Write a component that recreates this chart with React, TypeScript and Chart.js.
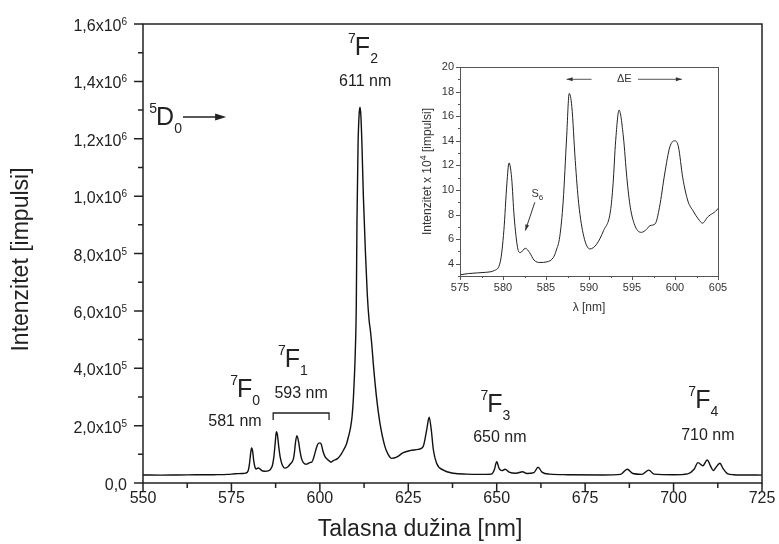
import React, { useEffect, useRef } from "react";
import { Chart, registerables } from "chart.js";
Chart.register(...registerables);

// Emission spectrum: wavelength [nm] and intensity [x10^4 impulses]
const wavelengths = [
  550, 555, 560, 565, 570, 574, 576, 578, 579, 579.7, 580.1, 580.45, 580.7, 581.0, 581.3, 581.7,
  582.0, 582.6, 583.1, 583.6, 584.3, 585.1, 585.85, 586.2, 586.6, 587.0, 587.4, 587.7, 588.0, 588.4,
  588.8, 589.4, 590.1, 590.9, 591.7, 592.5, 592.8, 593.1, 593.5, 594.0, 594.4, 594.8, 595.4, 596.1,
  596.7, 597.1, 597.7, 598.2, 598.8, 599.4, 600.0, 600.4, 600.9, 601.5, 602.1, 602.7, 603.2, 603.8,
  605.0, 606.0, 606.7, 607.5, 608.1, 608.7, 609.1, 609.5, 609.8, 610.0, 610.3, 610.5, 610.8, 611.1,
  611.35, 611.6, 611.9, 612.3, 612.9, 613.4, 613.9, 614.3, 614.7, 615.1, 616.0, 617.0, 618.4, 619.3,
  620.3, 621.7, 623.6, 625.5, 627.8, 629.2, 630.2, 630.9, 631.5, 632.1, 633.0, 634.9, 637.8, 641.5,
  645, 648.5, 649.3, 650.0, 650.7, 651.5, 652.4, 653.5, 655.5, 657.3, 658.5, 660.5, 661.7, 662.8,
  665, 670, 680, 685, 686.9, 688.5, 691, 693.0, 694.5, 700, 704, 705.8, 706.9, 708.3, 709.5, 710.5,
  711.2, 712.2, 713.1, 714, 715.2, 717, 720, 725,
];
const intensity = [
  2.8, 2.75, 2.8, 2.85, 2.9, 3.0, 3.2, 3.3, 3.45, 4.2, 6.7, 10.5, 12.2, 11.0, 7.8, 5.3,
  4.9, 5.25, 4.9, 4.3, 4.1, 4.15, 4.5, 5.1, 6.2, 9.1, 14.3, 17.85, 16.8, 12.4,
  8.9, 6.2, 5.2, 5.6, 6.7, 8.3, 10.5, 14.0, 16.5, 14.3, 11.0, 8.6, 7.0, 6.55,
  6.8, 7.1, 7.25, 8.6, 11.3, 13.5, 14.0, 13.5, 11.0, 9.1, 8.3, 7.65, 7.3, 7.8,
  8.5, 10.0, 11.5, 13.5, 16.2, 19.5, 23.1, 30, 38, 45, 62, 92, 118, 128.5,
  131, 128, 118, 100, 80, 66, 57, 53, 48, 41.7, 30.1, 20.8, 12.7, 10,
  8.6, 9.0, 10.6, 11.3, 11.7, 12.7, 18.5, 22.9, 18.5, 11.5, 6.9, 4.5, 3.4, 3.1,
  3.0, 3.1, 4.5, 7.4, 5.0, 4.3, 4.8, 3.8, 3.4, 3.9, 3.3, 3.6, 5.5, 3.8,
  3.1, 2.9, 2.8, 3.0, 4.8, 3.3, 3.0, 4.5, 3.1, 2.9, 3.2, 4.8, 7.1, 6.0, 8.0, 5.8,
  4.3, 5.8, 6.9, 5.0, 3.3, 2.9, 2.8, 2.75,
];

// Main axes (intensity in x10^4)
const mainXTicks = [550, 575, 600, 625, 650, 675, 700, 725];
const mainXMinor = [562.5, 587.5, 612.5, 637.5, 662.5, 687.5, 712.5];
const mainYTicks = [0, 20, 40, 60, 80, 100, 120, 140, 160];
const mainYMinor = [10, 30, 50, 70, 90, 110, 130, 150];
const mainYTickBase = ["0,0", "2,0x10", "4,0x10", "6,0x10", "8,0x10", "1,0x10", "1,2x10", "1,4x10", "1,6x10"];
const mainYTickExp = ["", "5", "5", "5", "5", "6", "6", "6", "6"];
const mainXTitle = "Talasna dužina [nm]";
const mainYTitle = "Intenzitet [impulsi]";

// Inset axes
const insetXTicks = [575, 580, 585, 590, 595, 600, 605];
const insetXMinor = [577.5, 582.5, 587.5, 592.5, 597.5, 602.5];
const insetYTicks = [4, 6, 8, 10, 12, 14, 16, 18, 20];
const insetYMinor = [3, 5, 7, 9, 11, 13, 15, 17, 19];
const insetXTitle = "λ [nm]";
const insetYTitleParts = ["Intenzitet x 10", "4", " [impulsi]"];

// Transition labels: [sup, main, sub, x of glyph origin (nm), baseline (x10^4)]
const terms: [string, string, string, number, number][] = [
  ["7", "F", "2", 609.9, 149.3],
  ["7", "F", "0", 576.6, 30.0],
  ["7", "F", "1", 590.1, 40.5],
  ["7", "F", "3", 647.3, 24.8],
  ["7", "F", "4", 706.1, 26.2],
  ["5", "D", "0", 553.7, 124.8],
];
// wavelength labels: [text, center x (nm), middle y (x10^4)]
const nmLabels: [string, number, number][] = [
  ["611 nm", 612.8, 139.8],
  ["581 nm", 576.0, 21.3],
  ["593 nm", 594.7, 31.0],
  ["650 nm", 650.9, 16.0],
  ["710 nm", 709.7, 16.4],
];

const FONT = '"Liberation Sans", Arial, sans-serif';
const TXT = "#222";

function richText(ctx: CanvasRenderingContext2D, x: number, y: number,
  runs: { t: string; s: number; dy: number }[], align: "left" | "center" | "right") {
  const ws = runs.map((r) => { ctx.font = `${r.s}px ${FONT}`; return ctx.measureText(r.t).width; });
  const total = ws.reduce((a, b) => a + b, 0);
  let sx = align === "left" ? x : align === "center" ? x - total / 2 : x - total;
  ctx.textAlign = "left";
  ctx.textBaseline = "alphabetic";
  runs.forEach((r, i) => {
    ctx.font = `${r.s}px ${FONT}`;
    ctx.fillText(r.t, sx, y + r.dy);
    sx += ws[i];
  });
}

function arrowHead(ctx: CanvasRenderingContext2D, x1: number, y1: number, x2: number, y2: number, len: number, hw: number) {
  const ang = Math.atan2(y2 - y1, x2 - x1);
  ctx.beginPath();
  ctx.moveTo(x2, y2);
  ctx.lineTo(x2 - len * Math.cos(ang) + hw * Math.sin(ang), y2 - len * Math.sin(ang) - hw * Math.cos(ang));
  ctx.lineTo(x2 - len * Math.cos(ang) - hw * Math.sin(ang), y2 - len * Math.sin(ang) + hw * Math.cos(ang));
  ctx.closePath();
  ctx.fill();
}

const mainDecor = {
  id: "mainDecor",
  afterDraw(chart: any) {
    const { ctx, chartArea: a, scales } = chart;
    const x = scales.x, y = scales.y;
    ctx.save();
    ctx.strokeStyle = "#222";
    ctx.fillStyle = TXT;
    ctx.lineWidth = 1.5;
    ctx.strokeRect(a.left, a.top, a.right - a.left, a.bottom - a.top);
    ctx.beginPath();
    mainXTicks.forEach((v) => { const p = x.getPixelForValue(v); ctx.moveTo(p, a.bottom); ctx.lineTo(p, a.bottom + 8); });
    mainXMinor.forEach((v) => { const p = x.getPixelForValue(v); ctx.moveTo(p, a.bottom); ctx.lineTo(p, a.bottom + 5); });
    mainYTicks.forEach((v) => { const p = y.getPixelForValue(v); ctx.moveTo(a.left, p); ctx.lineTo(a.left - 9, p); });
    mainYMinor.forEach((v) => { const p = y.getPixelForValue(v); ctx.moveTo(a.left, p); ctx.lineTo(a.left - 5, p); });
    ctx.stroke();

    // tick labels
    ctx.font = `16px ${FONT}`;
    ctx.textAlign = "center";
    ctx.textBaseline = "middle";
    mainXTicks.forEach((v) => ctx.fillText(String(v), x.getPixelForValue(v), a.bottom + 16));
    mainYTicks.forEach((v, i) => {
      const p = y.getPixelForValue(v);
      richText(ctx, a.left - 16, p, [
        { t: mainYTickBase[i], s: 16, dy: 7 },
        { t: mainYTickExp[i], s: 10, dy: 1 },
      ], "right");
    });

    // titles
    ctx.font = `23px ${FONT}`;
    ctx.textAlign = "center";
    ctx.textBaseline = "middle";
    ctx.fillText(mainXTitle, 420, a.bottom + 47);
    ctx.save();
    ctx.translate(22, (a.top + a.bottom) / 2 + 6);
    ctx.rotate(-Math.PI / 2);
    ctx.fillText(mainYTitle, 0, 0);
    ctx.restore();

    // transition labels
    terms.forEach(([sup, main, sub, wx, wy]) => {
      const px = x.getPixelForValue(wx), py = y.getPixelForValue(wy);
      ctx.font = `14px ${FONT}`;
      ctx.textAlign = "right";
      ctx.textBaseline = "alphabetic";
      ctx.fillText(sup, px + 1, py - 12);
      ctx.font = `25px ${FONT}`;
      ctx.textAlign = "left";
      ctx.fillText(main, px, py);
      const mw = ctx.measureText(main).width;
      ctx.font = `14px ${FONT}`;
      ctx.fillText(sub, px + mw, py + 8);
    });
    ctx.font = `16px ${FONT}`;
    ctx.textAlign = "center";
    ctx.textBaseline = "middle";
    nmLabels.forEach(([t, wx, wy]) => ctx.fillText(t, x.getPixelForValue(wx), y.getPixelForValue(wy)));

    // 7F1 bracket
    const bx1 = x.getPixelForValue(586.8), bx2 = x.getPixelForValue(602.6);
    const bt = y.getPixelForValue(24.4), bb = y.getPixelForValue(22.0);
    ctx.lineWidth = 1.3;
    ctx.beginPath();
    ctx.moveTo(bx1, bb); ctx.lineTo(bx1, bt); ctx.lineTo(bx2, bt); ctx.lineTo(bx2, bb);
    ctx.stroke();

    // 5D0 arrow
    const ax1 = x.getPixelForValue(561.3), ax2 = x.getPixelForValue(573.5), ay = y.getPixelForValue(127.6);
    ctx.lineWidth = 1.5;
    ctx.beginPath(); ctx.moveTo(ax1, ay); ctx.lineTo(ax2 - 6, ay); ctx.stroke();
    arrowHead(ctx, ax1, ay, ax2, ay, 11, 3.5);
    ctx.restore();
  },
};

const insetDecor = {
  id: "insetDecor",
  afterDraw(chart: any) {
    const { ctx, chartArea: a, scales } = chart;
    const x = scales.x, y = scales.y;
    ctx.save();
    ctx.strokeStyle = "#555";
    ctx.fillStyle = "#333";
    ctx.lineWidth = 1;
    ctx.strokeRect(a.left + 0.5, a.top + 0.5, a.right - a.left, a.bottom - a.top);
    ctx.beginPath();
    insetXTicks.forEach((v) => { const p = Math.round(x.getPixelForValue(v)) + 0.5; ctx.moveTo(p, a.bottom); ctx.lineTo(p, a.bottom + 4); });
    insetXMinor.forEach((v) => { const p = Math.round(x.getPixelForValue(v)) + 0.5; ctx.moveTo(p, a.bottom); ctx.lineTo(p, a.bottom + 2); });
    insetYTicks.forEach((v) => { const p = Math.round(y.getPixelForValue(v)) + 0.5; ctx.moveTo(a.left, p); ctx.lineTo(a.left - 4, p); });
    insetYMinor.forEach((v) => { const p = Math.round(y.getPixelForValue(v)) + 0.5; ctx.moveTo(a.left, p); ctx.lineTo(a.left - 2, p); });
    ctx.stroke();

    ctx.font = `11px ${FONT}`;
    ctx.textAlign = "center";
    ctx.textBaseline = "middle";
    insetXTicks.forEach((v) => ctx.fillText(String(v), x.getPixelForValue(v), a.bottom + 12));
    ctx.textAlign = "right";
    insetYTicks.forEach((v) => ctx.fillText(String(v), a.left - 6, y.getPixelForValue(v)));
    ctx.textAlign = "center";
    ctx.font = `12px ${FONT}`;
    ctx.fillText(insetXTitle, (a.left + a.right) / 2, a.bottom + 32);
    ctx.save();
    ctx.translate(a.left - 33, (a.top + a.bottom) / 2);
    ctx.rotate(-Math.PI / 2);
    richText(ctx, 0, 4, [
      { t: insetYTitleParts[0], s: 12, dy: 0 },
      { t: insetYTitleParts[1], s: 9, dy: -5 },
      { t: insetYTitleParts[2], s: 12, dy: 0 },
    ], "center");
    ctx.restore();

    // S6 label and arrow
    const sx = x.getPixelForValue(583.3), sy = y.getPixelForValue(9.4);
    richText(ctx, sx, sy, [{ t: "S", s: 11, dy: 0 }, { t: "6", s: 8, dy: 3 }], "left");
    ctx.strokeStyle = "#333";
    const s1x = x.getPixelForValue(583.7), s1y = y.getPixelForValue(9.0);
    const s2x = x.getPixelForValue(582.6), s2y = y.getPixelForValue(6.7);
    ctx.beginPath(); ctx.moveTo(s1x, s1y); ctx.lineTo(s2x, s2y); ctx.stroke();
    arrowHead(ctx, s1x, s1y, s2x, s2y, 6, 2);

    // Delta E arrows
    const ey = y.getPixelForValue(19.0);
    const l1 = x.getPixelForValue(590.3), l2 = x.getPixelForValue(587.4);
    const r1 = x.getPixelForValue(595.7), r2 = x.getPixelForValue(600.8);
    ctx.strokeStyle = "#555";
    ctx.beginPath(); ctx.moveTo(l1, ey); ctx.lineTo(l2, ey); ctx.moveTo(r1, ey); ctx.lineTo(r2, ey); ctx.stroke();
    ctx.fillStyle = "#333";
    arrowHead(ctx, l1, ey, l2, ey, 6, 2);
    arrowHead(ctx, r1, ey, r2, ey, 6, 2);
    ctx.font = `11px ${FONT}`;
    ctx.textAlign = "center";
    ctx.textBaseline = "middle";
    ctx.fillText("ΔE", x.getPixelForValue(594.1), ey);
    ctx.restore();
  },
};

function makePoints() {
  return wavelengths.map((w, i) => ({ x: w, y: intensity[i] }));
}

export default function App() {
  const mainRef = useRef<HTMLCanvasElement>(null);
  const insetRef = useRef<HTMLCanvasElement>(null);

  useEffect(() => {
    document.body.style.margin = "0";
    const main = new Chart(mainRef.current!, {
      type: "line",
      data: {
        datasets: [{
          data: makePoints(),
          borderColor: "#111",
          borderWidth: 1.4,
          pointRadius: 0,
          fill: false,
          cubicInterpolationMode: "monotone",
        }],
      },
      options: {
        responsive: false,
        animation: false,
        layout: { padding: { left: 143, right: 17, top: 24, bottom: 61 } },
        plugins: { legend: { display: false }, tooltip: { enabled: false } },
        scales: {
          x: { type: "linear", min: 550, max: 725, display: false },
          y: { type: "linear", min: 0, max: 160, display: false },
        },
      },
      plugins: [mainDecor],
    });
    const inset = new Chart(insetRef.current!, {
      type: "line",
      data: {
        datasets: [{
          data: makePoints(),
          borderColor: "#222",
          borderWidth: 1,
          pointRadius: 0,
          fill: false,
          cubicInterpolationMode: "monotone",
        }],
      },
      options: {
        responsive: false,
        animation: false,
        layout: { padding: { left: 60, right: 12, top: 17, bottom: 44 } },
        plugins: { legend: { display: false }, tooltip: { enabled: false } },
        scales: {
          x: { type: "linear", min: 575, max: 605, display: false },
          y: { type: "linear", min: 3, max: 20, display: false },
        },
      },
      plugins: [insetDecor],
    });
    return () => { main.destroy(); inset.destroy(); };
  }, []);

  return (
    <div style={{ position: "relative", width: 779, height: 544, background: "#fff" }}>
      <canvas ref={mainRef} width={779} height={544} style={{ position: "absolute", left: 0, top: 0, width: 779, height: 544 }} />
      <canvas ref={insetRef} width={330} height={270} style={{ position: "absolute", left: 400, top: 50, width: 330, height: 270 }} />
    </div>
  );
}
